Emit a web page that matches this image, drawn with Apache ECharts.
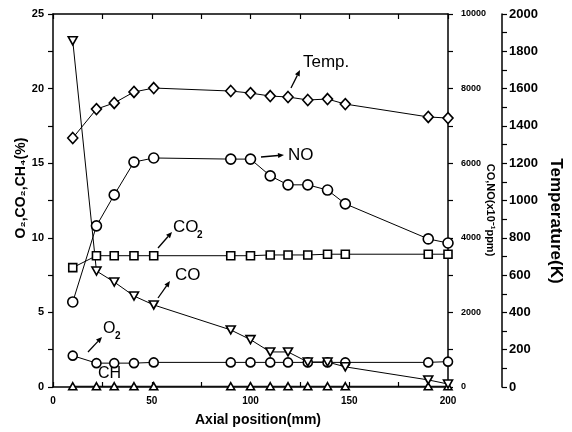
<!DOCTYPE html>
<html>
<head>
<meta charset="utf-8">
<script src="https://cdn.jsdelivr.net/npm/echarts@6/dist/echarts.min.js"></script>
<style>
  html, body { margin: 0; padding: 0; background: #fff; }
  #chart { width: 572px; height: 432px; }
</style>
</head>
<body>
<div id="chart"></div>
<script>
// Axial measurement positions (mm)
const positions = [10, 22, 31, 41, 51, 90, 100, 110, 119, 129, 139, 148, 190, 200];

// Species concentrations, left axis (%)
const o2  = [2.1, 1.6, 1.6, 1.6, 1.65, 1.65, 1.65, 1.65, 1.65, 1.65, 1.65, 1.65, 1.65, 1.7];
const co2 = [8.0, 8.8, 8.8, 8.8, 8.8, 8.8, 8.8, 8.85, 8.85, 8.85, 8.9, 8.9, 8.9, 8.9];
const ch4 = [0.05, 0.05, 0.05, 0.05, 0.05, 0.05, 0.05, 0.05, 0.05, 0.05, 0.05, 0.05, 0.05, 0.05];

// CO and NO, first right axis (x10^-1 ppm)
const co = [9280, 3110, 2815, 2440, 2200, 1530, 1270, 940, 940, 670, 670, 540, 190, 80];
const no = [2280, 4320, 5150, 6030, 6140, 6110, 6110, 5660, 5420, 5420, 5280, 4910, 3970, 3860];

// Gas temperature, second right axis (K)
const temp = [1335, 1490, 1523, 1582, 1603, 1587, 1576, 1560, 1555, 1539, 1544, 1517, 1448, 1442];

// Axis ranges and tick steps
const xRange = [0, 200, 50];
const leftRange = [0, 25, 5];
const concRange = [0, 10000, 2000];
const tempRange = [0, 2000, 200];

const BLACK = '#000';
const FONT = '"Liberation Sans", Arial, sans-serif';
const plain = v => String(v);

const pairs = ys => positions.map((x, i) => [x, ys[i]]);

function lineSeries(name, ys, yAxisIndex, symbol, size, rotate) {
  return {
    name, type: 'line', yAxisIndex, data: pairs(ys),
    symbol, symbolSize: size, symbolRotate: rotate || 0, showAllSymbol: true,
    lineStyle: { color: BLACK, width: 1 },
    itemStyle: { color: '#fff', borderColor: BLACK, borderWidth: 1.6 },
    emphasis: { disabled: true },
    animation: false
  };
}

function valueAxis(range, extra) {
  return Object.assign({
    type: 'value', min: range[0], max: range[1], interval: range[2],
    axisLine: { show: true, onZero: false, lineStyle: { color: BLACK, width: 1.5 } },
    axisTick: { show: true, inside: false, length: 5, lineStyle: { color: BLACK, width: 1.2 } },
    minorTick: { show: true, splitNumber: 2, length: 5, lineStyle: { color: BLACK, width: 1.2 } },
    splitLine: { show: false },
    minorSplitLine: { show: false }
  }, extra);
}

// Arrow from (x1,y1) to the head at (x2,y2)
function arrow(x1, y1, x2, y2) {
  const a = Math.atan2(y2 - y1, x2 - x1);
  const L = 6, W = 2.6;
  const bx = x2 - L * Math.cos(a), by = y2 - L * Math.sin(a);
  const nx = -Math.sin(a), ny = Math.cos(a);
  return [
    { type: 'line', shape: { x1, y1, x2: bx, y2: by }, style: { stroke: BLACK, lineWidth: 1.3 }, silent: true },
    { type: 'polygon', shape: { points: [[x2, y2], [bx + W * nx, by + W * ny], [bx - W * nx, by - W * ny]] },
      style: { fill: BLACK }, silent: true }
  ];
}

function label(text, x, y, size, weight) {
  return {
    type: 'text', x, y, silent: true,
    style: { text, fill: BLACK, font: (weight || 'normal') + ' ' + size + 'px ' + FONT,
             verticalAlign: 'middle', align: 'left' }
  };
}

function centered(text, x, y, size, weight, rotation) {
  return {
    type: 'text', x, y, rotation: rotation || 0, silent: true,
    style: { text, fill: BLACK, font: weight + ' ' + size + 'px ' + FONT,
             align: 'center', verticalAlign: 'middle' }
  };
}

const chart = echarts.init(document.getElementById('chart'), null, { renderer: 'canvas' });

const graphics = [
  // axis titles
  centered('O\u2082,CO\u2082,CH\u2084(%)', 21, 188, 14, 'bold', Math.PI / 2),
  centered('CO,NO(x10\u207B\u00B9ppm)', 490, 210, 11, 'bold', -Math.PI / 2),
  centered('Temperature(K)', 556, 221, 17, 'bold', -Math.PI / 2),
  centered('Axial position(mm)', 258, 420, 14, 'bold', 0),
  // series annotations
  label('Temp.', 303, 62, 17),
  label('NO', 288, 155, 17),
  label('CO', 173, 227, 17),
  label('2', 197, 235, 10, 'bold'),
  label('CO', 175, 275, 17),
  label('O', 103, 329, 16),
  label('2', 115, 336, 10, 'bold'),
  label('CH', 98, 374, 16),
  ...arrow(291, 88, 300, 70),
  ...arrow(261, 157, 284, 155),
  ...arrow(158, 248, 172, 232),
  ...arrow(158, 298, 170, 281),
  ...arrow(88, 352, 102, 337)
];

chart.setOption({
  animation: false,
  backgroundColor: '#fff',
  grid: { left: 53, right: 124, top: 14, bottom: 45, containLabel: false },
  xAxis: [
    valueAxis(xRange, {
      position: 'bottom',
      axisTick: { show: true, inside: true, length: 5, lineStyle: { color: BLACK, width: 1.2 } },
      axisLabel: { color: BLACK, fontSize: 10, fontWeight: 'bold', fontFamily: FONT, margin: 9, formatter: plain }
    }),
    valueAxis(xRange, {
      position: 'top',
      axisTick: { show: true, inside: true, length: 5, lineStyle: { color: BLACK, width: 1.2 } },
      axisLabel: { show: false }
    })
  ],
  yAxis: [
    valueAxis(leftRange, {
      position: 'left',
      axisLabel: { color: BLACK, fontSize: 11, fontWeight: 'bold', fontFamily: FONT, margin: 9, formatter: plain }
    }),
    valueAxis(concRange, {
      position: 'right',
      axisLabel: { color: BLACK, fontSize: 9, fontWeight: 'bold', fontFamily: FONT, margin: 13, formatter: plain }
    }),
    valueAxis(tempRange, {
      position: 'right', offset: 54,
      axisLabel: { color: BLACK, fontSize: 13, fontWeight: 'bold', fontFamily: FONT, margin: 7, formatter: plain }
    })
  ],
  series: [
    lineSeries('CH4', ch4, 0, 'triangle', [8, 7]),
    lineSeries('O2', o2, 0, 'circle', 9),
    lineSeries('CO2', co2, 0, 'rect', 8),
    lineSeries('CO', co, 1, 'triangle', [9, 8], 180),
    lineSeries('NO', no, 1, 'circle', 10),
    lineSeries('Temp.', temp, 2, 'diamond', [10, 11])
  ],
  graphic: { elements: graphics }
});
</script>
</body>
</html>
